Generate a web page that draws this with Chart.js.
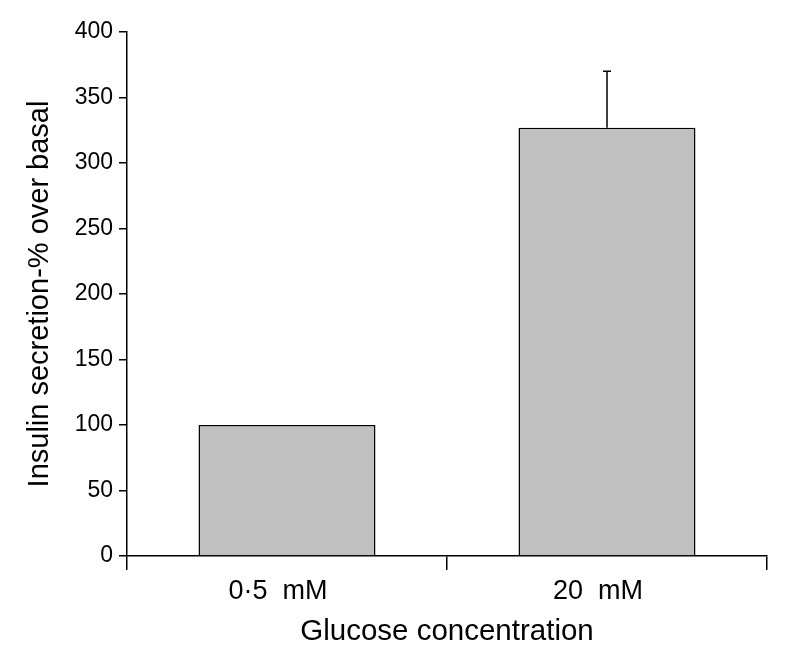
<!DOCTYPE html>
<html lang="en">
<head>
  <meta charset="UTF-8">
  <title>Insulin secretion vs glucose concentration</title>
  <style>
    html, body { margin:0; padding:0; background:#fff; }
    .wrap { width:791px; height:657px; }
  </style>
</head>
<body>
<div class="wrap"><canvas id="insulinChart" width="791" height="657"></canvas></div>
<script src="https://cdn.jsdelivr.net/npm/chart.js"></script>
<script>
// data
const categories = ['0·5  mM', '20  mM'];
const secretion = [100, 327];
const errUp = [0, 43];
const yTicks = [0, 50, 100, 150, 200, 250, 300, 350, 400];

// simple upper error bar, drawn through the scales
const errorBars = {
  id: 'errorBars',
  afterDatasetsDraw(chart) {
    const c = chart.ctx;
    const meta = chart.getDatasetMeta(0);
    const y = chart.scales.y;
    c.save();
    c.strokeStyle = '#000';
    c.lineWidth = 1.5;
    meta.data.forEach((bar, i) => {
      if (!errUp[i]) return;
      const yTop = y.getPixelForValue(secretion[i] + errUp[i]);
      c.beginPath();
      c.moveTo(bar.x, bar.y);
      c.lineTo(bar.x, yTop);
      c.moveTo(bar.x - 4, yTop);
      c.lineTo(bar.x + 4, yTop);
      c.stroke();
    });
    c.restore();
  }
};

const fam = 'Liberation Sans, Arial, sans-serif';
const ctx = document.getElementById('insulinChart').getContext('2d');
new Chart(ctx, {
  type: 'bar',
  data: {
    labels: categories,
    datasets: [{
      data: secretion,
      backgroundColor: '#c0c0c0',
      borderColor: '#000',
      borderWidth: 1.5,
      categoryPercentage: 1,
      barPercentage: 0.553
    }]
  },
  options: {
    responsive: false,
    animation: false,
    layout: { padding: { top: 32, right: 24, left: 0, bottom: 0 } },
    plugins: { legend: { display: false }, tooltip: { enabled: false } },
    scales: {
      x: {
        offset: true,
        grid: { offset: true, drawOnChartArea: false, drawTicks: true, tickLength: 14, color: '#000', lineWidth: 1.5 },
        border: { color: '#000', width: 1.5 },
        ticks: { color: '#000', padding: 5, labelOffset: -9, font: { family: fam, size: 27 } },
        title: { display: true, text: 'Glucose concentration', color: '#000', padding: { top: 0, bottom: 7 },
                 font: { family: fam, size: 29.5 } },
        afterFit(axis) { axis.height = 101; }
      },
      y: {
        min: 0, max: 400,
        afterBuildTicks(axis) { axis.ticks = yTicks.map(v => ({ value: v })); },
        grid: { drawOnChartArea: false, drawTicks: true, tickLength: 8, color: '#000', lineWidth: 1.5 },
        border: { color: '#000', width: 1.5 },
        ticks: { color: '#000', padding: 6, font: { family: fam, size: 23 } },
        title: { display: true, text: 'Insulin secretion-% over basal', color: '#000', padding: { top: 23, bottom: 0 },
                 font: { family: fam, size: 29 } },
        afterFit(axis) { axis.width = 127; }
      }
    }
  },
  plugins: [errorBars]
});
</script>
</body>
</html>
